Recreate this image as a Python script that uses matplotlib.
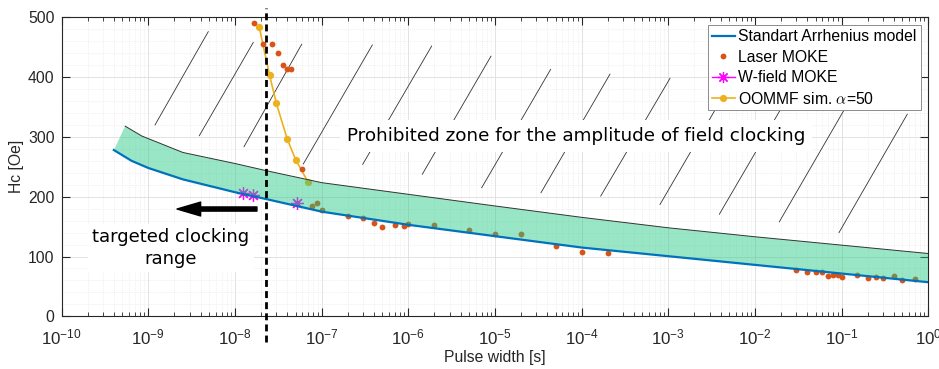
import numpy as np
import matplotlib
matplotlib.use('Agg')
import matplotlib.pyplot as plt
from matplotlib.lines import Line2D
from matplotlib.ticker import LogLocator, MultipleLocator, NullFormatter

# --------------------------------------------------------------------
# data
# Arrhenius model (lower edge of the band)
arr_t = [4e-10, 6.4e-10, 1e-9, 2.5e-9, 1e-8, 2.3e-8, 1e-7, 1e-6, 1e-5, 1e-4, 1e-3, 1e-2, 1e-1, 1.0]
arr_hc = [278, 260, 248, 229, 207.5, 196, 175, 153, 134, 115, 100.5, 86, 71.5, 57]

# upper edge of the band
upper_t = [5.4e-10, 8.4e-10, 2.5e-9, 1e-8, 2.3e-8, 1e-7, 1e-6, 1e-5, 1e-4, 1e-3, 1e-2, 1e-1, 1.0]
upper_hc = [318, 301.5, 274, 255.5, 243.5, 223.5, 204, 184.5, 165.5, 148, 133, 119, 105]

# Laser MOKE
laser_t = [1.67e-8, 2.13e-8, 2.65e-8, 3.13e-8, 3.55e-8, 4.0e-8, 4.45e-8, 5.93e-8, 7.8e-8, 8.75e-8,
           1e-7, 2e-7, 3e-7, 4e-7, 5e-7, 7e-7, 9e-7, 1e-6, 2e-6, 5e-6,
           1e-5, 2e-5, 5e-5, 1e-4, 2e-4, 0.03, 0.04, 0.05, 0.06, 0.07,
           0.08, 0.09, 0.1, 0.15, 0.2, 0.25, 0.3, 0.4, 0.5, 0.7]
laser_hc = [491, 456, 456, 441, 421, 413, 413, 246, 185, 189,
            177, 167, 165, 156, 149, 152, 151.5, 154, 153, 144,
            137, 138, 117.5, 108, 105.5, 78, 74.5, 74, 74, 67.5,
            68.5, 69.5, 65.5, 69, 63.5, 65.5, 64, 67.5, 61, 62]

# W-field MOKE
wfield_t = [1.22e-8, 1.63e-8, 5.2e-8]
wfield_hc = [205.7, 202.3, 189.8]

# OOMMF simulation
oommf_t = [1.9e-8, 2.5e-8, 3e-8, 4e-8, 5e-8, 7e-8]
oommf_hc = [484, 403.5, 356, 296.5, 262, 224]

# hatch strokes of the prohibited zone (start / end)
hatch_t0 = [1.193e-9, 3.87e-9, 1.269e-8, 6.13e-8, 2.97e-7, 1.447e-6, 7.01e-6, 3.39e-5, 1.656e-4, 8.0e-4, 3.87e-3, 1.905e-2, 9.3e-2]
hatch_hc0 = [320, 302, 283.6, 254.7, 254, 237.5, 215, 206.7, 201, 187, 170.6, 158, 140]
hatch_t1 = [4.91e-9, 1.624e-8, 5.88e-8, 3.835e-7, 1.858e-6, 8.98e-6, 4.385e-5, 2.12e-4, 1.044e-3, 5.0e-3, 2.53e-2, 0.1245, 0.571]
hatch_hc1 = [476, 458, 455, 453.7, 452, 435, 413, 405, 398, 385, 373, 362, 338]

clock_limit = 2.25e-8

# --------------------------------------------------------------------
plt.rcParams['font.family'] = ['Liberation Sans', 'DejaVu Sans']
plt.rcParams['mathtext.fontset'] = 'custom'
plt.rcParams['mathtext.rm'] = 'Liberation Sans'
plt.rcParams['mathtext.it'] = 'Liberation Sans:italic'

c_blue = '#0072BD'
c_orange = '#D95319'
c_yellow = '#EDB120'
c_axis = '#262626'

fig = plt.figure(figsize=(9.39, 3.69), dpi=100)
ax = fig.add_axes([0.0657, 0.1428, 0.9230, 0.8103])
ax.set_xscale('log')

# hatching
for a, b, c, d in zip(hatch_t0, hatch_hc0, hatch_t1, hatch_hc1):
    ax.plot([a, c], [b, d], color='#333333', lw=0.6, zorder=2)

# data
ax.plot(oommf_t, oommf_hc, '-o', color=c_yellow, lw=1.2, ms=4.2, zorder=3)
ax.plot(laser_t, laser_hc, 'o', color=c_orange, ms=4.2, mec='none', zorder=3)
ax.plot(wfield_t, wfield_hc, ls='none', marker=(8, 2, 0), color='#FF00FF', ms=9, mew=0.9, zorder=3)

# band
poly_t = upper_t + arr_t[::-1]
poly_hc = upper_hc + arr_hc[::-1]
ax.fill(poly_t, poly_hc, color='#1EC882', alpha=0.45, lw=0, zorder=4)
ax.plot(upper_t, upper_hc, color='#333333', lw=0.7, zorder=5)
ax.plot(arr_t, arr_hc, color=c_blue, lw=1.6, zorder=5)

# clocking limit
ax.axvline(clock_limit, ymin=-0.086, ymax=1.03, color='k', lw=2, ls=(0, (2.5, 1.5)),
           clip_on=False, zorder=6)

ax.annotate('', xy=(2.14e-9, 179.4), xytext=(1.79e-8, 179.4),
            arrowprops=dict(arrowstyle='simple,head_length=17,head_width=10,tail_width=3',
                            color='k', mutation_scale=1, shrinkA=0, shrinkB=0), zorder=6)

ax.text(1.96e-7, 301.5, 'Prohibited zone for the amplitude of field clocking',
        family='DejaVu Sans', fontsize=13.2, va='center', ha='left',
        bbox=dict(facecolor='white', edgecolor='none', pad=5), zorder=6)
ax.text(1.82e-9, 114, 'targeted clocking\nrange', family='DejaVu Sans', fontsize=13,
        va='center', ha='center', linespacing=1.3,
        bbox=dict(facecolor='white', edgecolor='none', pad=3), zorder=6)

# axes
ax.set_xlim(1e-10, 1)
ax.set_ylim(0, 500)
ax.xaxis.set_major_locator(LogLocator(base=10, numticks=20))
ax.xaxis.set_minor_locator(LogLocator(base=10, subs=np.arange(2, 10), numticks=20))
ax.xaxis.set_minor_formatter(NullFormatter())
ax.yaxis.set_major_locator(MultipleLocator(100))
ax.yaxis.set_minor_locator(MultipleLocator(20))
ax.tick_params(which='both', direction='in', top=True, right=True, colors=c_axis, labelsize=11.3)
ax.tick_params(which='major', length=5.5, width=0.8)
ax.tick_params(which='minor', length=3, width=0.6)
ax.tick_params(axis='y', which='minor', length=0)
ax.tick_params(axis='y', which='major', pad=5)
ax.tick_params(axis='x', which='major', labelsize=12.2, pad=8)
ax.grid(True, which='major', color='#dedede', lw=0.6)
ax.grid(True, which='minor', color='#e4e4e4', lw=0.5, ls=':')
ax.set_axisbelow(True)
for s in ax.spines.values():
    s.set_color(c_axis)
    s.set_linewidth(0.8)

ax.set_xlabel('Pulse width [s]', fontsize=11.3, color=c_axis, labelpad=2)
ax.set_ylabel('Hc [Oe]', fontsize=11.3, color=c_axis, labelpad=3)

handles = [Line2D([], [], color=c_blue, lw=1.6),
           Line2D([], [], ls='none', marker='o', color=c_orange, ms=4.2, mec='none'),
           Line2D([], [], color='#FF00FF', lw=1, marker=(8, 2, 0), ms=8, mew=0.9),
           Line2D([], [], color=c_yellow, lw=1.2, marker='o', ms=4.2)]
labels = ['Standart Arrhenius model', 'Laser MOKE', 'W-field MOKE', r'OOMMF sim. $\alpha$=50']
leg = ax.legend(handles, labels, loc='upper right', fontsize=11.3, fancybox=False,
                framealpha=1, edgecolor='#8c8c8c', handlelength=1.5, handletextpad=0.2,
                borderpad=0.25, labelspacing=0.35, borderaxespad=0.5)
leg.get_frame().set_linewidth(0.7)
leg.set_zorder(10)
leg.get_texts()[3].set_math_fontfamily('cm')

plt.savefig('out.png', dpi=100)
